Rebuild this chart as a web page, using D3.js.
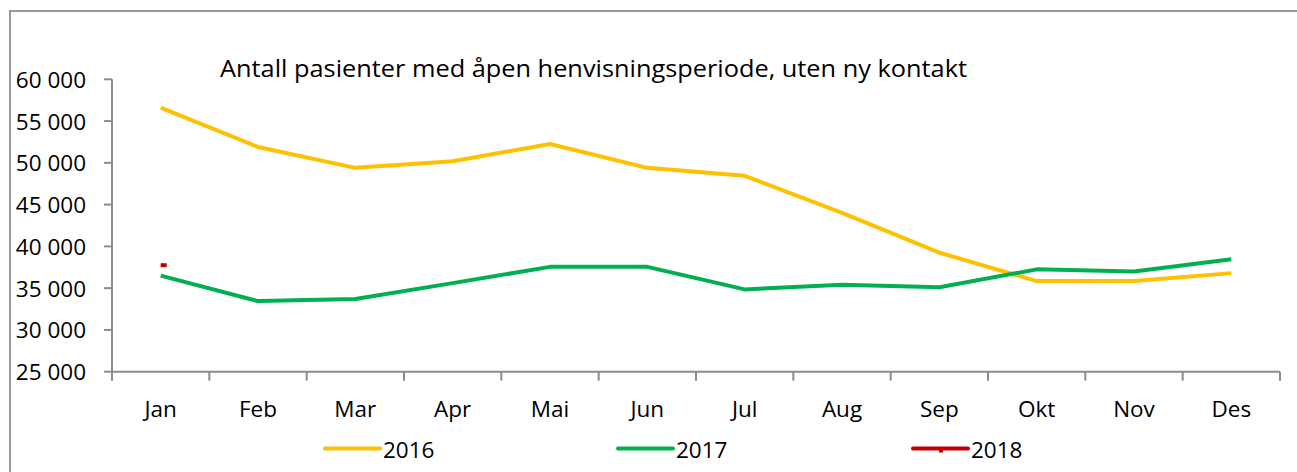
<!DOCTYPE html>
<html>
<head>
<meta charset="utf-8">
<script src="https://cdn.jsdelivr.net/npm/d3@7"></script>
<style>
  html, body { margin: 0; padding: 0; background: #fff; }
  svg { display: block; }
  text { font-family: "Open Sans", sans-serif; fill: #000; }
</style>
</head>
<body>
<div id="chart"></div>
<script>
const months = ['Jan', 'Feb', 'Mar', 'Apr', 'Mai', 'Jun', 'Jul', 'Aug', 'Sep', 'Okt', 'Nov', 'Des'];
const values2016 = [56600, 51900, 49400, 50200, 52250, 49400, 48450, 44000, 39250, 35850, 35850, 36800];
const values2017 = [36500, 33450, 33700, 35600, 37550, 37550, 34850, 35400, 35100, 37250, 37000, 38450];
const values2018 = [37750, null, null, null, null, null, null, null, null, null, null, null];
const yTicks = [25000, 30000, 35000, 40000, 45000, 50000, 55000, 60000];
const titleText = 'Antall pasienter med åpen henvisningsperiode, uten ny kontakt';

const series = [
  { name: '2016', values: values2016, color: '#ffc000' },
  { name: '2017', values: values2017, color: '#00b050' },
  { name: '2018', values: values2018, color: '#c00000' }
];

const width = 1297;
const height = 472;
const axisColor = '#8c8c8c';

const svg = d3.select('#chart').append('svg')
  .attr('width', width)
  .attr('height', height);

// outer frame (runs off the right and bottom edge)
svg.append('rect')
  .attr('x', 10)
  .attr('y', 11)
  .attr('width', width + 20)
  .attr('height', height + 20)
  .attr('fill', 'none')
  .attr('stroke', '#999')
  .attr('stroke-width', 2);

const x = d3.scaleBand().domain(months).range([112, 1280]).paddingInner(0).paddingOuter(0);
const y = d3.scaleLinear().domain([25000, 60000]).range([371.7, 79.3]);

const locale = d3.formatLocale({ decimal: ',', thousands: ' ', grouping: [3], currency: ['', ''] });
const fmt = locale.format(',');

// title
svg.append('text')
  .attr('x', 220)
  .attr('y', 77)
  .attr('font-size', 24.5)
  .attr('textLength', 747)
  .attr('lengthAdjust', 'spacingAndGlyphs')
  .text(titleText);

// y axis
const yAxis = svg.append('g');
yAxis.append('line')
  .attr('x1', x.range()[0]).attr('x2', x.range()[0])
  .attr('y1', y(60000)).attr('y2', y(25000))
  .attr('stroke', axisColor).attr('stroke-width', 2);
yAxis.selectAll('.ytick')
  .data(yTicks)
  .enter()
  .append('line')
  .attr('class', 'ytick')
  .attr('x1', 104).attr('x2', 112)
  .attr('y1', d => y(d)).attr('y2', d => y(d))
  .attr('stroke', axisColor).attr('stroke-width', 2);
yAxis.selectAll('.ylabel')
  .data(yTicks)
  .enter()
  .append('text')
  .attr('class', 'ylabel')
  .attr('x', 86)
  .attr('y', d => y(d) + 8.5)
  .attr('text-anchor', 'end')
  .attr('font-size', 22.5)
  .text(d => fmt(d));

// x axis
const xAxis = svg.append('g');
xAxis.append('line')
  .attr('x1', x.range()[0]).attr('x2', x.range()[1])
  .attr('y1', y(25000)).attr('y2', y(25000))
  .attr('stroke', axisColor).attr('stroke-width', 2);
const boundaries = months.map(m => x(m)).concat([x.range()[1]]);
xAxis.selectAll('.xtick')
  .data(boundaries)
  .enter()
  .append('line')
  .attr('class', 'xtick')
  .attr('x1', d => d).attr('x2', d => d)
  .attr('y1', y(25000)).attr('y2', y(25000) + 9)
  .attr('stroke', axisColor).attr('stroke-width', 2);
xAxis.selectAll('.xlabel')
  .data(months)
  .enter()
  .append('text')
  .attr('class', 'xlabel')
  .attr('x', d => x(d) + x.bandwidth() / 2)
  .attr('y', 417)
  .attr('text-anchor', 'middle')
  .attr('font-size', 22.5)
  .text(d => d);

// lines
const line = d3.line()
  .defined(d => d.v !== null)
  .x(d => x(d.m) + x.bandwidth() / 2)
  .y(d => y(d.v));

series.forEach(s => {
  const pts = months.map((m, i) => ({ m: m, v: s.values[i] }));
  svg.append('path')
    .attr('d', line(pts))
    .attr('fill', 'none')
    .attr('stroke', s.color)
    .attr('stroke-width', 4)
    .attr('stroke-linejoin', 'round');
  // lone points (2018) drawn as a dash marker
  const lone = pts.filter((d, i) => d.v !== null &&
    (i === 0 || pts[i - 1].v === null) && (i === pts.length - 1 || pts[i + 1].v === null));
  svg.selectAll(null)
    .data(lone)
    .enter()
    .append('rect')
    .attr('x', d => x(d.m) + x.bandwidth() / 2)
    .attr('y', d => y(d.v) - 2)
    .attr('width', 6)
    .attr('height', 4)
    .attr('fill', s.color);
});

// legend
const legendX = [325, 618, 913];
const legend = svg.append('g');
series.forEach((s, i) => {
  legend.append('line')
    .attr('x1', legendX[i]).attr('x2', legendX[i] + 55)
    .attr('y1', 448.5).attr('y2', 448.5)
    .attr('stroke', s.color)
    .attr('stroke-width', 4)
    .attr('stroke-linecap', 'round');
  if (s.name === '2018') {
    legend.append('rect')
      .attr('x', legendX[i] + 26).attr('y', 448.5)
      .attr('width', 4).attr('height', 4)
      .attr('fill', s.color);
  }
  legend.append('text')
    .attr('x', legendX[i] + 58)
    .attr('y', 457.5)
    .attr('font-size', 22.5)
    .text(s.name);
});
</script>
</body>
</html>
